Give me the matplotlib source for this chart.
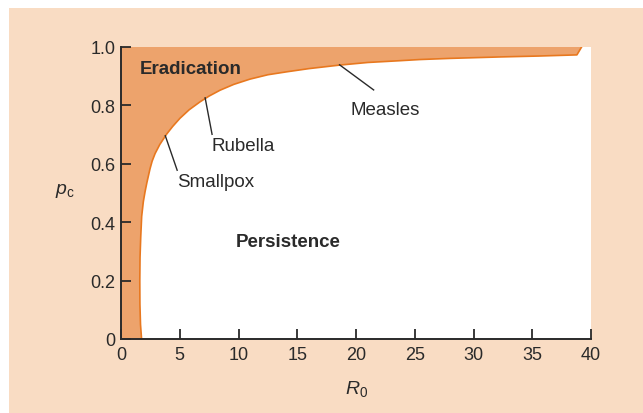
import matplotlib
matplotlib.use("Agg")
import matplotlib.pyplot as plt
from matplotlib.patches import Rectangle

# Порог вакцинации p_c в зависимости от R0 (точки)
r0_curve = [1.75, 1.66, 1.61, 1.60, 1.62, 1.68, 1.76, 1.90, 2.05, 2.20, 2.47,
            2.65, 2.90, 3.30, 3.89, 4.40, 5.02, 5.80, 6.72, 7.50, 8.43, 9.60,
            10.98, 12.5, 14.1, 16.0, 18.6, 21.0, 23.7, 25.4, 28.0, 32.3, 35.5,
            38.8, 39.2]
pc_curve = [0.0, 0.05, 0.12, 0.20, 0.28, 0.35, 0.42, 0.47, 0.505, 0.535,
            0.583, 0.609, 0.635, 0.666, 0.702, 0.728, 0.756, 0.785, 0.812,
            0.832, 0.852, 0.872, 0.890, 0.905, 0.915, 0.926, 0.938, 0.947,
            0.953, 0.957, 0.961, 0.966, 0.969, 0.973, 1.0]

x_ticks = [0, 5, 10, 15, 20, 25, 30, 35, 40]
y_ticks = [0, 0.2, 0.4, 0.6, 0.8, 1.0]
y_tick_labels = ["0", "0.2", "0.4", "0.6", "0.8", "1.0"]

# Подписи болезней: (текст, начало линии, конец линии, позиция текста)
diseases = [
    ("Measles", (18.6, 0.939), (21.5, 0.853), (19.55, 0.787)),
    ("Rubella", (7.16, 0.826), (7.75, 0.701), (7.68, 0.661)),
    ("Smallpox", (3.77, 0.696), (4.78, 0.578), (4.78, 0.538)),
]

BG = "#F9DCC3"
FILL = "#EDA36C"
LINE = "#E8781F"
DARK = "#2a2a2a"

plt.rcParams["font.family"] = ["Liberation Sans", "DejaVu Sans"]
plt.rcParams["mathtext.fontset"] = "custom"
plt.rcParams["mathtext.rm"] = "Liberation Sans"
plt.rcParams["mathtext.it"] = "Liberation Sans:italic"

fig = plt.figure(figsize=(6.43, 4.14), dpi=100, facecolor="white")
fig.patches.append(Rectangle((9 / 643, 0), 1, (414 - 9) / 414,
                             transform=fig.transFigure, facecolor=BG,
                             edgecolor="none", zorder=-10))

ax = fig.add_axes([121 / 643, 74 / 414, 470 / 643, 292 / 414])
ax.set_facecolor("white")

# Область эрадикации: от оси до кривой и до p_c = 1
ax.fill([0] + r0_curve + [0], [0] + pc_curve + [1.0], color=FILL, lw=0, zorder=1)
ax.plot(r0_curve, pc_curve, color=LINE, lw=1.2, zorder=2,
        solid_joinstyle="round")

ax.set_xlim(0, 40)
ax.set_ylim(0, 1.0)

for side in ["top", "right"]:
    ax.spines[side].set_visible(False)
for side in ["left", "bottom"]:
    ax.spines[side].set_color(DARK)
    ax.spines[side].set_linewidth(1.4)
    ax.spines[side].set_zorder(5)

ax.set_xticks(x_ticks)
ax.set_xticklabels([str(t) for t in x_ticks])
ax.set_yticks(y_ticks)
ax.set_yticklabels(y_tick_labels)
ax.tick_params(direction="in", length=7, width=1.3, color=DARK,
               labelsize=13, labelcolor=DARK)
ax.tick_params(axis="x", pad=5)
ax.tick_params(axis="y", pad=4)

ax.set_ylabel(r"$p_\mathrm{c}$", fontsize=14, rotation=0, color=DARK)
ax.yaxis.set_label_coords(-0.12, 0.48)
ax.set_xlabel(r"$R_0$", fontsize=14, color=DARK)
ax.xaxis.set_label_coords(0.502, -0.135)

ax.text(1.57, 0.928, "Eradication", fontsize=13.5, fontweight="bold",
        color=DARK, va="center", ha="left", zorder=6)
ax.text(9.77, 0.334, "Persistence", fontsize=13.5, fontweight="bold",
        color=DARK, va="center", ha="left", zorder=6)

for name, start, end, pos in diseases:
    ax.plot([start[0], end[0]], [start[1], end[1]], color=DARK, lw=1.0, zorder=3)
    ax.text(pos[0], pos[1], name, fontsize=13.5, color=DARK,
            va="center", ha="left", zorder=6)

fig.savefig("out.png", dpi=100, facecolor=fig.get_facecolor())
